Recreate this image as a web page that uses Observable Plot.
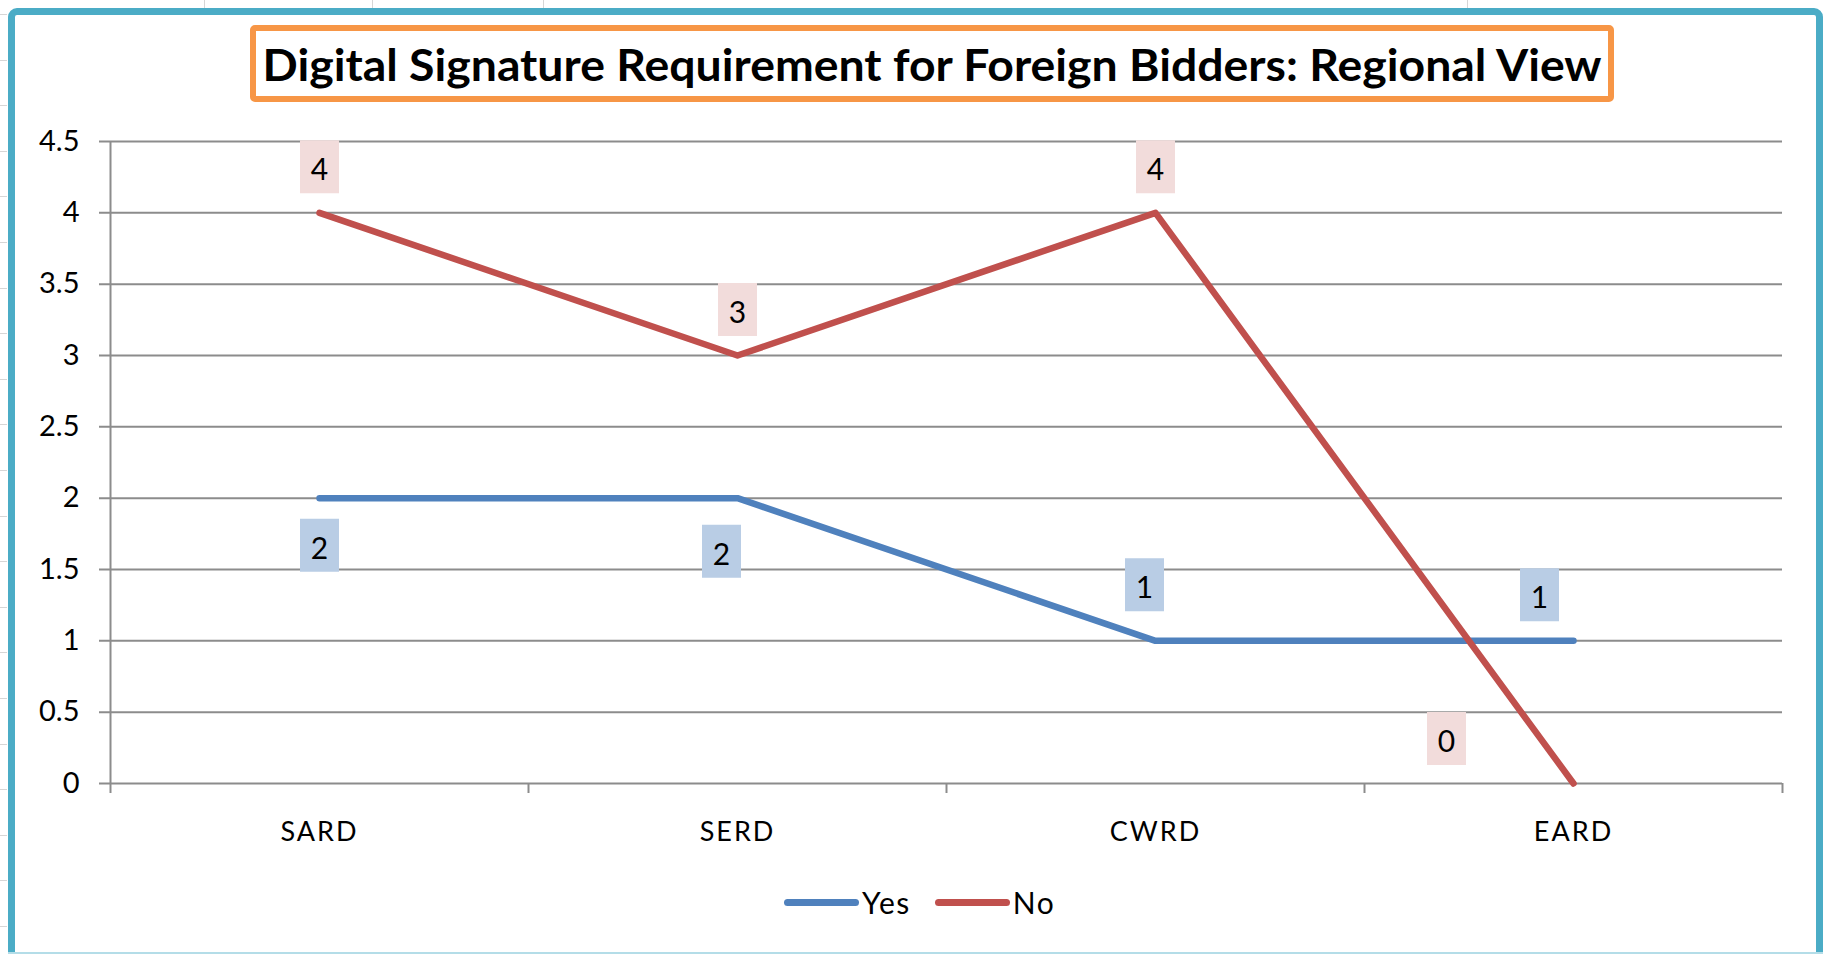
<!DOCTYPE html>
<html>
<head>
<meta charset="utf-8">
<script src="https://cdn.jsdelivr.net/npm/d3@7"></script>
<script src="https://cdn.jsdelivr.net/npm/@observablehq/plot@0.6"></script>
<style>
  html, body { margin: 0; padding: 0; background: #fff; width: 1825px; height: 954px; overflow: hidden; font-family: Lato, "Open Sans", sans-serif; }
  .col { position: absolute; top: 0; width: 1px; height: 9px; background: #d6d6d6; }
  #rows { position: absolute; left: 0; top: 0; width: 7px; height: 954px;
    background: repeating-linear-gradient(to bottom, transparent 0px, transparent 14px, #d6d6d6 14px, #d6d6d6 15px, transparent 15px, transparent 45.6px); }
  #frame { position: absolute; left: 8px; top: 8px; width: 1815px; height: 1000px; box-sizing: border-box;
    border: 7px solid #4BACC6; border-radius: 9px; }
  #bottomline { position: absolute; left: 8px; top: 952px; width: 1815px; height: 2px; background: #b4dde8; }
  #titlebox { position: absolute; left: 250px; top: 25px; width: 1364px; height: 77px; box-sizing: border-box;
    border: 6px solid #F79646; border-radius: 5px; display: flex; align-items: center; justify-content: center; overflow: visible; }
  #title { font-family: Lato, sans-serif; font-weight: 700; font-size: 44px; color: #000; white-space: nowrap; display: inline-block; transform-origin: center center; }
  #chart { position: absolute; left: 0; top: 120px; }
  #legend { position: absolute; left: 0; top: 884px; height: 36px; display: flex; align-items: center; font-family: Lato, sans-serif; font-size: 30px; color: #000; }
  .swatch { width: 75px; height: 7px; border-radius: 4px; margin-right: 3px; }
  .legtext { margin-right: 24px; line-height: 36px; letter-spacing: 1.5px; }
</style>
</head>
<body>
<div class="col" style="left:204px"></div>
<div class="col" style="left:372px"></div>
<div class="col" style="left:543px"></div>
<div class="col" style="left:1467px"></div>
<div id="rows"></div>
<div id="frame"></div>
<div id="bottomline"></div>
<div id="titlebox"><span id="title">Digital Signature Requirement for Foreign Bidders: Regional View</span></div>
<div id="chart"></div>
<div id="legend"></div>
<script>
// ---- data ----
const categories = ["SARD", "SERD", "CWRD", "EARD"];
const yesValues = [2, 2, 1, 1];
const noValues = [4, 3, 4, 0];
const seriesNames = ["Yes", "No"];
const yTicks = [0, 0.5, 1, 1.5, 2, 2.5, 3, 3.5, 4, 4.5];

// ---- styles ----
const seriesColors = ["#4F81BD", "#C0504D"];
const boxColors = ["#B9CDE5", "#F2DCDB"];
const gridColor = "#8c8c8c";

const rows = categories.flatMap((c, i) => [
  {cat: c, series: seriesNames[0], value: yesValues[i]},
  {cat: c, series: seriesNames[1], value: noValues[i]}
]);

const W = 1825, H = 740, mL = 110, mR = 43, mT = 21, mB = 77;
const bw = (W - mL - mR) / categories.length;

const boxSymbol = { draw(ctx) { ctx.rect(-19.5, -26.5, 39, 53); } };

// label placement (style offsets) per series/category
const labelOffsets = {
  "Yes": {SARD: [0, 47], SERD: [-16, 53], CWRD: [-11, -56], EARD: [-34, -46]},
  "No":  {SARD: [0, -46], SERD: [0, -46], CWRD: [0, -46], EARD: [-127, -45]}
};

const labelMarks = [];
seriesNames.forEach((s, si) => {
  categories.forEach(c => {
    const [dx, dy] = labelOffsets[s][c];
    const sub = rows.filter(r => r.series === s && r.cat === c);
    labelMarks.push(Plot.dot(sub, {x: "cat", y: "value", symbol: boxSymbol, r: 5, fill: boxColors[si], stroke: "none", dx, dy}));
    labelMarks.push(Plot.text(sub, {x: "cat", y: "value", text: d => String(d.value), fontSize: 30, fill: "#000", fontFamily: "Lato", dx, dy: dy + 4}));
  });
});

const chart = Plot.plot({
  width: W, height: H,
  marginLeft: mL, marginRight: mR, marginTop: mT, marginBottom: mB,
  style: {fontFamily: "Lato, sans-serif", background: "transparent", color: "#000", overflow: "visible"},
  x: {type: "point", domain: categories, padding: 0.5, label: null},
  y: {domain: [0, 4.5], label: null},
  marks: [
    Plot.ruleY(yTicks, {y: d => d, stroke: gridColor, strokeWidth: 2, insetLeft: -11}),
    Plot.ruleX(categories, {x: d => d, y1: 0, y2: 0, dx: -bw / 2, insetBottom: -10, stroke: gridColor, strokeWidth: 2}),
    Plot.ruleX(categories.slice(-1), {x: d => d, y1: 0, y2: 0, dx: bw / 2, insetBottom: -10, stroke: gridColor, strokeWidth: 2}),
    Plot.ruleX(categories.slice(0, 1), {x: d => d, y1: 0, y2: 4.5, dx: -bw / 2, stroke: gridColor, strokeWidth: 2}),
    Plot.axisY({ticks: yTicks, tickFormat: d => String(d), tickSize: 0, tickPadding: 31, fontSize: 29, label: null, fill: "#000"}),
    Plot.axisX({tickSize: 0, tickPadding: 38, fontSize: 27, label: null, fill: "#000"}),
    Plot.line(rows, {x: "cat", y: "value", z: "series", stroke: d => seriesColors[seriesNames.indexOf(d.series)], strokeWidth: 6.5, strokeLinecap: "round", strokeLinejoin: "round"}),
    ...labelMarks
  ]
});
document.getElementById("chart").appendChild(chart);
chart.querySelectorAll('g[aria-label="x-axis tick label"] text').forEach(t => t.style.letterSpacing = "2px");

// legend
const legend = document.getElementById("legend");
seriesNames.forEach((s, i) => {
  const sw = document.createElement("div");
  sw.className = "swatch";
  sw.style.background = seriesColors[i];
  const tx = document.createElement("span");
  tx.className = "legtext";
  tx.textContent = s;
  legend.appendChild(sw);
  legend.appendChild(tx);
});
legend.style.left = "784px";

// title width fit
const title = document.getElementById("title");
const tw = title.getBoundingClientRect().width;
title.style.transform = `scaleX(${1339 / tw})`;
</script>
</body>
</html>
